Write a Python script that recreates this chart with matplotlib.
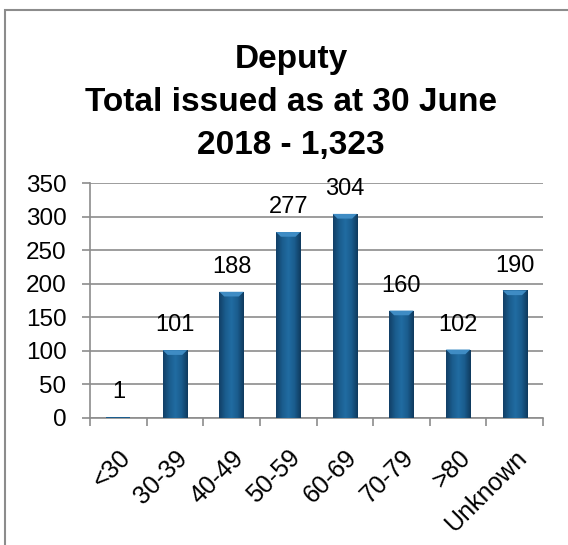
import numpy as np
import matplotlib
matplotlib.use("Agg")
from matplotlib import pyplot as plt, patches as pth
from matplotlib.colors import LinearSegmentedColormap

plt.rcParams['font.family'] = ['Liberation Sans', 'DejaVu Sans']

categories = ['<30', '30-39', '40-49', '50-59', '60-69', '70-79', '>80', 'Unknown']
issued = [1, 101, 188, 277, 304, 160, 102, 190]
y_ticks = [0, 50, 100, 150, 200, 250, 300, 350]
title = 'Deputy\nTotal issued as at 30 June\n2018 - 1,323'

GRID = '#8c8c8c'

fig = plt.figure(figsize=(5.68, 5.45), dpi=100)
ax = fig.add_axes([90/568, 127/545, 453/568, 235/545])

x = np.arange(len(categories))
bars = ax.bar(x, issued, width=0.43, color='#1b5e8f', zorder=3)

# horizontal shading like the office bevel
bar_cmap = LinearSegmentedColormap.from_list(
    'bar', ['#123f66', '#1a5c8d', '#216ca2', '#1a5c8d', '#0f3a5e'])
grad = np.linspace(0, 1, 64).reshape(1, -1)
for b in bars:
    x0, w, h = b.get_x(), b.get_width(), b.get_height()
    if h < 2:
        continue
    im = ax.imshow(grad, cmap=bar_cmap, extent=(x0, x0 + w, 0, h),
                   aspect='auto', zorder=4)
    im.set_clip_path(b)
    cap = min(7.0, h * 0.3)
    ax.add_patch(pth.Polygon([(x0, h), (x0 + w, h), (x0 + w * 0.8, h - cap),
                              (x0 + w * 0.2, h - cap)],
                             closed=True, color='#3f8cc4', lw=0, zorder=5))

for xi, v in zip(x, issued):
    ax.annotate(str(v), (xi, v), xytext=(0, 10), textcoords='offset points',
                ha='center', va='bottom', fontsize=17)

ax.set_xlim(-0.5, len(categories) - 0.5)
ax.set_ylim(0, 350)
ax.set_yticks(y_ticks)
ax.set_yticklabels([str(t) for t in y_ticks], fontsize=17.5)
ax.yaxis.grid(True, color=GRID, lw=1.2, zorder=0)
ax.tick_params(axis='y', length=6, width=1.2, color=GRID, pad=11)

ax.set_xticks(x)
ax.set_xticklabels(categories, fontsize=18, rotation=45, ha='right',
                   rotation_mode='anchor')
ax.set_xticks(np.arange(len(categories) + 1) - 0.5, minor=True)
ax.tick_params(axis='x', which='major', length=0, pad=20)
ax.tick_params(axis='x', which='minor', length=6, width=1.2, color=GRID)

for s in ['top', 'right']:
    ax.spines[s].set_visible(False)
for s in ['left', 'bottom']:
    ax.spines[s].set_color(GRID)
    ax.spines[s].set_linewidth(1.2)

fig.text(291/568, 0.92, title, ha='center', va='top', fontsize=24,
         fontweight='bold', linespacing=1.5)

# chart area outline
fig.add_artist(pth.Rectangle((5/568, -0.05), 1.2, 0.05 + (1 - 9.5/545),
                             transform=fig.transFigure, fill=False,
                             edgecolor='#8c8c8c', lw=1.5))

fig.savefig('out.png', dpi=100)
